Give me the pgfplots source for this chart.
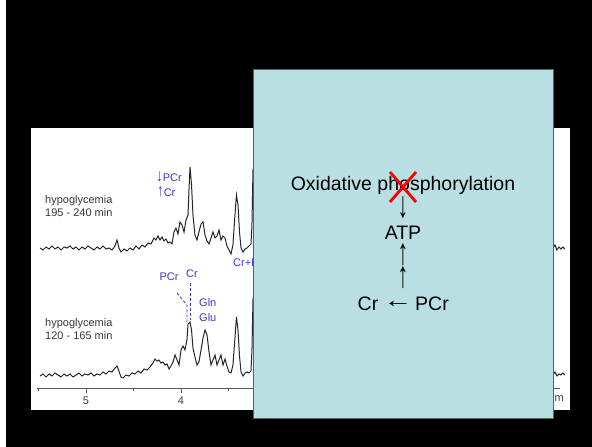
\documentclass[border=0pt]{standalone}
\usepackage{pgfplots}
\pgfplotsset{compat=1.18}
\usepackage{graphicx}
\usepackage{fontspec}
\setmainfont{Liberation Sans}
\definecolor{panelblue}{HTML}{B9DFE2}
\definecolor{annblue}{RGB}{55,55,215}
\definecolor{boxedge}{HTML}{4F6466}
\definecolor{trace}{HTML}{262626}
\newcommand{\tallarrow}[1]{\scalebox{1.1}[1.9]{#1}}

% spectra: chemical shift (ppm) vs. intensity (arbitrary units)
\pgfplotstableread{
ppm y
5.484 140
5.453 138
5.421 141
5.389 139
5.358 142
5.326 139
5.295 141
5.263 138
5.232 141
5.200 140
5.168 142
5.137 139
5.105 141
5.074 138
5.042 141
5.011 139
4.979 142
4.947 140
4.916 138
4.884 141
4.853 139
4.821 142
4.789 139
4.758 140
4.726 138
4.695 142
4.674 148
4.653 140
4.632 136
4.600 139
4.568 137
4.537 140
4.505 138
4.474 142
4.442 139
4.411 143
4.379 141
4.347 145
4.316 144
4.284 150
4.263 148
4.242 152
4.221 148
4.200 151
4.179 147
4.158 149
4.137 145
4.116 146
4.095 144
4.074 156
4.053 160
4.032 154
4.011 166
3.989 163
3.968 156
3.947 168
3.926 173
3.916 198
3.905 221
3.889 203
3.874 173
3.853 153
3.832 148
3.811 156
3.789 164
3.768 166
3.747 153
3.726 147
3.705 144
3.684 150
3.663 156
3.642 150
3.621 152
3.600 158
3.579 148
3.558 152
3.537 150
3.516 142
3.495 138
3.474 134
3.453 143
3.432 173
3.416 193
3.400 183
3.384 156
3.368 140
3.347 136
3.326 139
3.305 140
3.284 142
3.263 144
3.253 163
3.242 218
3.211 228
3.168 148
0.084 140
0.063 143
0.042 138
0.021 141
0.000 139
-0.021 141
-0.042 139
}\late

\pgfplotstableread{
ppm y
5.484 12
5.453 14
5.421 11
5.389 14
5.358 12
5.326 15
5.295 13
5.263 11
5.232 14
5.200 12
5.168 14
5.137 11
5.105 13
5.074 15
5.042 12
5.011 14
4.979 13
4.947 15
4.916 12
4.884 14
4.853 13
4.821 16
4.789 14
4.758 17
4.726 16
4.695 20
4.674 22
4.653 17
4.632 11
4.611 10
4.579 13
4.547 12
4.516 15
4.484 14
4.453 17
4.421 15
4.389 19
4.358 18
4.326 21
4.295 25
4.274 29
4.253 27
4.232 28
4.211 25
4.189 26
4.168 23
4.147 24
4.126 19
4.105 22
4.084 26
4.063 33
4.042 28
4.021 23
4.000 38
3.979 42
3.958 38
3.937 48
3.926 64
3.905 66
3.889 58
3.874 40
3.853 31
3.832 23
3.811 26
3.789 38
3.768 50
3.747 58
3.726 53
3.705 36
3.684 23
3.663 28
3.642 33
3.621 23
3.600 28
3.579 33
3.558 23
3.537 29
3.516 22
3.495 16
3.474 15
3.453 23
3.432 50
3.416 71
3.400 58
3.384 32
3.368 16
3.347 12
3.326 15
3.305 16
3.284 15
3.263 17
3.253 38
3.242 88
3.211 108
3.168 18
0.084 13
0.063 16
0.042 12
0.021 14
0.000 13
-0.021 15
-0.042 13
}\early

\begin{document}
\begin{tikzpicture}[x=1pt,y=1pt]
\useasboundingbox (0,0) rectangle (592,447);
\fill[white] (0,0) rectangle (592,447);
\fill[black] (6,0) rectangle (592,447);
\fill[white] (31,37) rectangle (570,319);

\begin{axis}[
    at={(37pt,59pt)}, anchor=south west,
    scale only axis,
    width=523pt, height=260pt,
    x dir=reverse,
    xmin=0.01, xmax=5.516,
    ymin=0, ymax=260,
    clip=false,
    axis x line=bottom,
    axis y line=none,
    axis line style={draw=black!65, line width=0.8pt, -},
    xtick={1,2,3,4,5},
    minor xtick={0.5,1.5,2.5,3.5,4.5,5.5},
    tick align=outside,
    major tick length=5pt,
    minor tick length=3pt,
    xtick style={draw=black!65, line width=0.7pt},
    /pgf/number format/assume math mode=true,
    xticklabel style={font=\fontsize{11}{12}\selectfont, text=black!75},
  ]
  \addplot[trace, line width=1pt] table[x=ppm, y=y] {\late};
  \addplot[trace, line width=1pt] table[x=ppm, y=y] {\early};
  \draw[annblue, densely dashed, line width=0.8pt]
    (axis cs:4.042,95) -- (axis cs:3.937,83) -- (axis cs:3.937,66);
  \draw[annblue, densely dashed, line width=0.8pt]
    (axis cs:3.900,105) -- (axis cs:3.900,68);
\end{axis}

\node[font=\fontsize{11}{11}\selectfont, text=black!75] at (553,47) {ppm};

% spectrum labels
\begin{scope}[every node/.style={inner sep=0pt, font=\fontsize{11}{12.5}\selectfont}]
  \node[anchor=west, align=left, text=black!78] at (45,241) {hypoglycemia\\195 - 240 min};
  \node[anchor=west, align=left, text=black!78] at (45,118) {hypoglycemia\\120 - 165 min};
  \node[anchor=west, text=annblue] at (156,270) {\textbf{\scalebox{1.2}[1.6]{↓}}PCr};
  \node[anchor=west, text=annblue] at (157,255) {\textbf{\scalebox{1.2}[1.6]{↑}}Cr};
  \node[anchor=west, text=annblue] at (233,184) {Cr+PCr};
  \node[text=annblue] at (169,170) {PCr};
  \node[text=annblue] at (192,173) {Cr};
  \node[anchor=west, text=annblue] at (199,144) {Gln};
  \node[anchor=west, text=annblue] at (199,129) {Glu};
\end{scope}

% overlay box
\fill[panelblue] (253,29) rectangle (553,378);
\draw[boxedge, line width=0.9pt] (253,29) rectangle (553,378);
\begin{scope}[every node/.style={inner sep=0pt, font=\fontsize{19.5}{22}\selectfont}]
  \node at (403,262) {Oxidative phosphorylation};
  \node at (403,239) {\tallarrow{↓}};
  \node at (403,214) {ATP};
  \node at (403,192) {\tallarrow{↑}};
  \node at (403,169) {\tallarrow{↑}};
  \node at (368,143) {Cr};
  \node at (398,143) {\scalebox{1.5}[1.1]{←}};
  \node at (432,143) {PCr};
\end{scope}
\draw[red, line width=2.8pt] (390,275) -- (416,245);
\draw[red, line width=2.8pt] (390,245) -- (416,275);
\end{tikzpicture}
\end{document}
